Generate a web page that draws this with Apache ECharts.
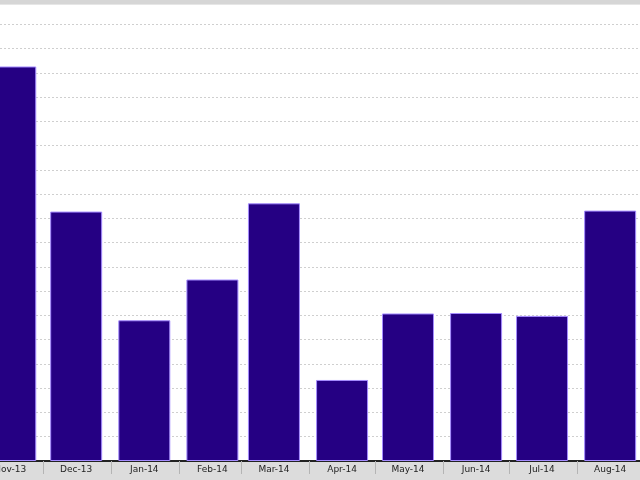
<!DOCTYPE html>
<html>
<head>
<meta charset="utf-8">
<script src="https://cdn.jsdelivr.net/npm/echarts@6/dist/echarts.min.js"></script>
<style>
html,body{margin:0;padding:0;background:#dcdcdc;}
#chart{width:640px;height:480px;}
</style>
</head>
<body>
<div id="chart"></div>
<script>
// Data
const barDates = ['2013-11-16','2013-12-16','2014-01-16','2014-02-16','2014-03-16','2014-04-16','2014-05-16','2014-06-16','2014-07-16','2014-08-16'];
const tickLabels = ['Nov-13','Dec-13','Jan-14','Feb-14','Mar-14','Apr-14','May-14','Jun-14','Jul-14','Aug-14'];
const values = [81.3, 51.4, 29.0, 37.4, 53.1, 16.7, 30.4, 30.5, 29.9, 51.6];
const monthStarts = ['2013-12-01','2014-01-01','2014-02-01','2014-03-01','2014-04-01','2014-05-01','2014-06-01','2014-07-01','2014-08-01'];
const viewStart = '2013-11-11T08:00:00Z';
const viewEnd = '2014-08-29T14:00:00Z';

const ts = s => new Date(s.length === 10 ? s + 'T00:00:00Z' : s).getTime();
const barTimes = barDates.map(ts);
const tickTimes = monthStarts.map(ts);

const chart = echarts.init(document.getElementById('chart'));
chart.setOption({
  animation: false,
  backgroundColor: '#dcdcdc',
  grid: {left: 0, right: 0, top: 0, bottom: 19, show: true, backgroundColor: '#ffffff', borderWidth: 0, containLabel: false, outerBoundsMode: 'none'},
  xAxis: {
    type: 'value',
    min: ts(viewStart),
    max: ts(viewEnd),
    axisLine: {show: true, lineStyle: {color: '#222222', width: 2}},
    axisTick: {show: true, customValues: tickTimes, length: 13, lineStyle: {color: '#b4b4b4', width: 1}},
    axisLabel: {
      show: true,
      customValues: barTimes,
      margin: 4,
      fontFamily: 'DejaVu Sans',
      fontSize: 9,
      color: '#222222',
      showMinLabel: true,
      showMaxLabel: true,
      hideOverlap: false,
      formatter: function (v) { const i = barTimes.indexOf(v); return i >= 0 ? tickLabels[i] : ''; }
    },
    splitLine: {show: false}
  },
  yAxis: {
    type: 'value',
    min: 0,
    max: 95,
    interval: 5,
    axisLine: {show: false},
    axisTick: {show: false},
    axisLabel: {show: false},
    splitLine: {show: true, lineStyle: {color: '#cfcfcf', type: [2, 2], width: 1}}
  },
  series: [{
    type: 'bar',
    data: barTimes.map((t, i) => [t, values[i]]),
    barWidth: 52,
    clip: true,
    itemStyle: {color: '#250083', borderColor: '#a58cff', borderWidth: 1}
  }],
  graphic: [
    {type: 'rect', left: 0, top: 0, shape: {width: 640, height: 4}, style: {fill: '#d6d6d6'}, z: 100},
    {type: 'rect', left: 0, top: 4, shape: {width: 640, height: 1}, style: {fill: '#e6e6e6'}, z: 100}
  ]
});
</script>
</body>
</html>
